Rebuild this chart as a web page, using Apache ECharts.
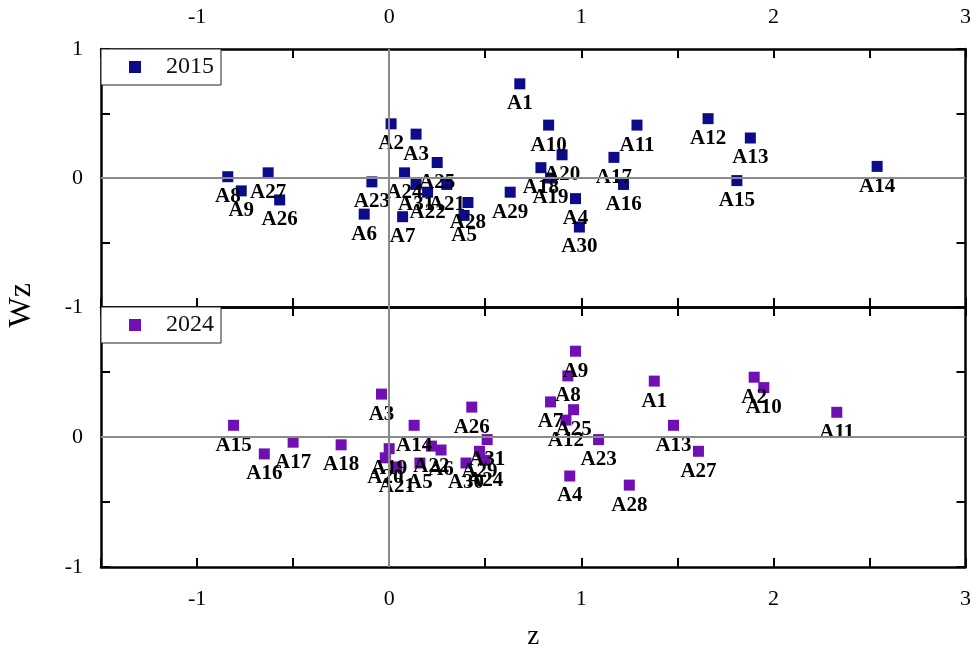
<!DOCTYPE html>
<html>
<head>
<meta charset="utf-8">
<script src="https://cdn.jsdelivr.net/npm/echarts@6/dist/echarts.min.js"></script>
<style>
  html, body { margin: 0; padding: 0; background: #fff; }
  #chart { width: 974px; height: 655px; }
</style>
</head>
<body>
<div id="chart"></div>
<script>
// point names, shared by both years
const names = ['A1','A2','A3','A4','A5','A6','A7','A8','A9','A10',
  'A11','A12','A13','A14','A15','A16','A17','A18','A19','A20',
  'A21','A22','A23','A24','A25','A26','A27','A28','A29','A30','A31'];

// 2015 (z, Wz)
const z2015 = [0.68, 0.01, 0.14, 0.97, 0.39, -0.13, 0.07, -0.84, -0.77, 0.83,
  1.29, 1.66, 1.88, 2.54, 1.81, 1.22, 1.17, 0.79, 0.84, 0.90,
  0.30, 0.20, -0.09, 0.08, 0.25, -0.57, -0.63, 0.41, 0.63, 0.99, 0.14];
const wz2015 = [0.73, 0.42, 0.34, -0.16, -0.29, -0.28, -0.30, 0.01, -0.10, 0.41,
  0.41, 0.46, 0.31, 0.09, -0.02, -0.05, 0.16, 0.08, 0.00, 0.18,
  -0.05, -0.11, -0.03, 0.04, 0.12, -0.17, 0.04, -0.19, -0.11, -0.38, -0.05];

// 2024 (z, Wz)
const z2024 = [1.38, 1.90, -0.04, 0.94, 0.16, 0.27, 0.84, 0.93, 0.97, 1.95,
  2.33, 0.92, 1.48, 0.13, -0.81, -0.65, -0.50, -0.25, 0.00, -0.02,
  0.04, 0.22, 1.09, 0.50, 0.96, 0.43, 1.61, 1.25, 0.47, 0.40, 0.51];
const wz2024 = [0.43, 0.46, 0.33, -0.30, -0.20, -0.10, 0.27, 0.47, 0.66, 0.38,
  0.19, 0.13, 0.09, 0.09, 0.09, -0.13, -0.04, -0.06, -0.09, -0.16,
  -0.23, -0.07, -0.02, -0.18, 0.21, 0.23, -0.11, -0.37, -0.11, -0.20, -0.02];

const xTicks = [-1, 0, 1, 2, 3];
const FONT = 'Liberation Serif';

let myChart = echarts.init(document.getElementById('chart'));

function pts(xs, ys) {
  return xs.map((x, i) => [x, ys[i], names[i]]);
}

// 只显示整数刻度
function intLabel(v) {
  return Number.isInteger(v) ? String(v) : '';
}

function xAxisFor(gridIndex, position, showLabel, extra) {
  return Object.assign({
    type: 'value',
    gridIndex: gridIndex,
    position: position,
    min: -1.5,
    max: 3,
    interval: 0.5,
    axisLine: { show: true, onZero: false, lineStyle: { color: '#000', width: 2.5 } },
    axisTick: { show: true, inside: true, length: 9, lineStyle: { color: '#000', width: 2 } },
    axisLabel: {
      show: showLabel,
      margin: 21,
      color: '#000',
      fontSize: 22,
      fontFamily: FONT,
      formatter: (v) => xTicks.indexOf(v) >= 0 ? String(v) : ''
    },
    splitLine: { show: false }
  }, extra || {});
}

function yAxisFor(gridIndex, position, showLabel, hideMax) {
  return {
    type: 'value',
    gridIndex: gridIndex,
    position: position,
    min: -1,
    max: 1,
    interval: 0.5,
    axisLine: { show: true, onZero: false, lineStyle: { color: '#000', width: 2.5 } },
    axisTick: { show: true, inside: true, length: 9, lineStyle: { color: '#000', width: 2 } },
    axisLabel: {
      show: showLabel,
      margin: 18,
      color: '#000',
      fontSize: 22,
      fontFamily: FONT,
      formatter: (v) => (hideMax && v === 1) ? '' : intLabel(v)
    },
    splitLine: { show: false }
  };
}

const zeroLines = {
  silent: true,
  symbol: 'none',
  label: { show: false },
  lineStyle: { color: '#8a8a8a', width: 2, type: 'solid' },
  data: [{ xAxis: 0 }, { yAxis: 0 }]
};

function legendFor(name, top) {
  return {
    data: [name],
    left: 101,
    top: top,
    orient: 'vertical',
    backgroundColor: '#fff',
    borderColor: '#222',
    borderWidth: 1,
    borderRadius: 0,
    padding: [6, 7, 6, 28],
    itemWidth: 12,
    itemHeight: 12,
    icon: 'rect',
    textStyle: {
      color: '#111',
      fontSize: 24,
      fontFamily: FONT,
      padding: [0, 0, 0, 20]
    }
  };
}

function scatterFor(name, data, color, idx) {
  return {
    name: name,
    type: 'scatter',
    xAxisIndex: idx * 2,
    yAxisIndex: idx * 2,
    symbol: 'rect',
    symbolSize: 11,
    itemStyle: { color: color, opacity: 1 },
    data: data,
    label: {
      show: true,
      position: 'bottom',
      distance: 4,
      formatter: (p) => p.value[2],
      color: '#000',
      fontSize: 21,
      fontWeight: 'bold',
      fontFamily: FONT
    },
    markLine: zeroLines,
    z: 3
  };
}

const option = {
  backgroundColor: '#fff',
  animation: false,
  grid: [
    { left: 101, top: 49, width: 865, height: 258 },
    { left: 101, top: 307, width: 865, height: 260 }
  ],
  xAxis: [
    xAxisFor(0, 'top', true),
    xAxisFor(0, 'bottom', false),
    xAxisFor(1, 'bottom', true, {
      name: 'z',
      nameLocation: 'middle',
      nameGap: 56,
      nameTextStyle: { color: '#000', fontSize: 27, fontFamily: FONT }
    }),
    xAxisFor(1, 'top', false)
  ],
  yAxis: [
    yAxisFor(0, 'left', true, false),
    yAxisFor(0, 'right', false, false),
    yAxisFor(1, 'left', true, true),
    yAxisFor(1, 'right', false, false)
  ],
  legend: [legendFor('2015', 49), legendFor('2024', 307)],
  graphic: [{
    type: 'text',
    left: 6,
    top: 283,
    rotation: Math.PI / 2,
    style: {
      text: 'Wz',
      fill: '#000',
      font: '32px "' + FONT + '"'
    }
  }],
  series: [
    scatterFor('2015', pts(z2015, wz2015), '#0c0c8a', 0),
    scatterFor('2024', pts(z2024, wz2024), '#7010b4', 1)
  ]
};

myChart.setOption(option);
</script>
</body>
</html>
